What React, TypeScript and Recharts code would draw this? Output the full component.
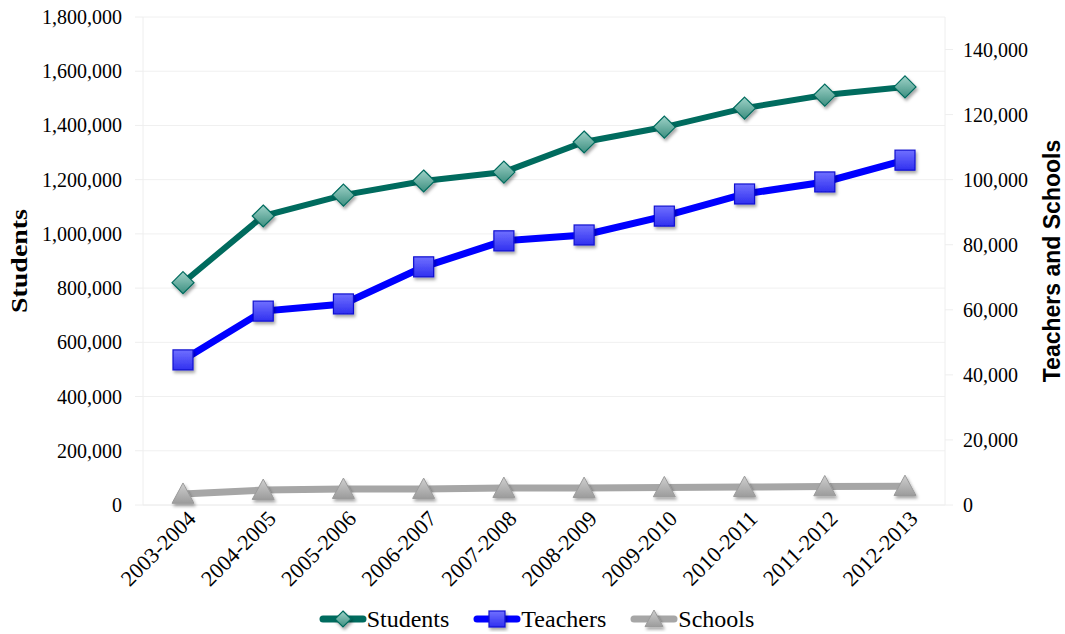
import { LineChart, Line, XAxis, YAxis, CartesianGrid, Legend } from 'recharts';

const years = [
  '2003-2004', '2004-2005', '2005-2006', '2006-2007', '2007-2008',
  '2008-2009', '2009-2010', '2010-2011', '2011-2012', '2012-2013',
];
const students = [820000, 1066000, 1143000, 1195000, 1228000, 1339000, 1394000, 1464000, 1512000, 1542000];
const teachers = [44600, 59600, 61800, 73200, 81200, 83000, 88800, 95600, 99300, 106000];
const schools = [3400, 4600, 4900, 4900, 5200, 5200, 5400, 5500, 5700, 5800];

const leftTicks = [0, 200000, 400000, 600000, 800000, 1000000, 1200000, 1400000, 1600000, 1800000];
const rightTicks = [0, 20000, 40000, 60000, 80000, 100000, 120000, 140000];

const data = years.map((year, i) => ({
  year,
  students: students[i],
  teachers: teachers[i],
  schools: schools[i],
}));

const SERIF = '"Liberation Serif", "Times New Roman", serif';
const SANS = '"Liberation Sans", Arial, sans-serif';

const TEAL = '#006b5e';
const BLUE = '#0000ff';
const GREY = '#a6a6a6';

const fmt = (v: number) => v.toLocaleString('en-US');

function Diamond({ cx, cy, half = 11 }: any) {
  if (cx == null || cy == null) return null;
  return (
    <path
      d={`M${cx},${cy - half} L${cx + half},${cy} L${cx},${cy + half} L${cx - half},${cy} Z`}
      fill="url(#gTeal)"
      stroke={TEAL}
      strokeWidth={1.2}
      filter="url(#shadow)"
    />
  );
}

function Square({ cx, cy, half = 10 }: any) {
  if (cx == null || cy == null) return null;
  return (
    <rect
      x={cx - half}
      y={cy - half}
      width={half * 2}
      height={half * 2}
      fill="url(#gBlue)"
      stroke="#1010d0"
      strokeWidth={1.2}
      filter="url(#shadow)"
    />
  );
}

function Triangle({ cx, cy, half = 11 }: any) {
  if (cx == null || cy == null) return null;
  const h = half * 0.85;
  return (
    <path
      d={`M${cx},${cy - half} L${cx + half},${cy + h} L${cx - half},${cy + h} Z`}
      fill="url(#gGrey)"
      stroke="#9a9a9a"
      strokeWidth={1}
      filter="url(#shadow)"
    />
  );
}

function XTick({ x, y, payload }: any) {
  return (
    <text
      x={x}
      y={y}
      transform={`rotate(-45, ${x}, ${y})`}
      textAnchor="end"
      dy={15}
      dx={5}
      style={{ fontFamily: SERIF, fontSize: 22 }}
      fill="#000"
    >
      {payload.value}
    </text>
  );
}

function YTickLeft({ x, y, payload }: any) {
  return (
    <text x={x} y={y} dy={7} textAnchor="end" style={{ fontFamily: SERIF, fontSize: 20 }} fill="#000">
      {fmt(payload.value)}
    </text>
  );
}

function YTickRight({ x, y, payload }: any) {
  return (
    <text x={x} y={y} dy={7} textAnchor="start" style={{ fontFamily: SERIF, fontSize: 20 }} fill="#000">
      {fmt(payload.value)}
    </text>
  );
}

function LeftLabel({ viewBox }: any) {
  const x = viewBox.x + 19;
  const y = viewBox.y + viewBox.height / 2;
  return (
    <text
      x={x}
      y={y}
      transform={`rotate(-90, ${x}, ${y})`}
      textAnchor="middle"
      dominantBaseline="central"
      textLength={104}
      lengthAdjust="spacingAndGlyphs"
      style={{ fontFamily: SERIF, fontWeight: 'bold', fontSize: 23 }}
      fill="#000"
    >
      Students
    </text>
  );
}

function RightLabel({ viewBox }: any) {
  const x = viewBox.x + 107;
  const y = viewBox.y + viewBox.height / 2;
  return (
    <text
      x={x}
      y={y}
      transform={`rotate(-90, ${x}, ${y})`}
      textAnchor="middle"
      dominantBaseline="central"
      style={{ fontFamily: SANS, fontWeight: 'bold', fontSize: 23 }}
      fill="#000"
    >
      Teachers and Schools
    </text>
  );
}

const legendItems = [
  { label: 'Students', color: TEAL },
  { label: 'Teachers', color: BLUE },
  { label: 'Schools', color: GREY },
];

function LegendContent() {
  return (
    <div
      style={{
        display: 'flex',
        justifyContent: 'center',
        alignItems: 'center',
        gap: 24,
        marginTop: 6,
        paddingLeft: 8,
      }}
    >
      {legendItems.map(({ label, color }) => (
        <div key={label} style={{ display: 'flex', alignItems: 'center' }}>
          <svg width={48} height={26}>
            <line x1={4} y1={13} x2={44} y2={13} stroke={color} strokeWidth={7} strokeLinecap="round" />
            {label === 'Students' && <Diamond cx={24} cy={13} half={8} />}
            {label === 'Teachers' && <Square cx={24} cy={13} half={8} />}
            {label === 'Schools' && <Triangle cx={24} cy={13} half={9} />}
          </svg>
          <span style={{ fontFamily: SERIF, fontSize: 24, color: '#000', lineHeight: '26px' }}>{label}</span>
        </div>
      ))}
    </div>
  );
}

export default function App() {
  return (
    <div style={{ position: 'absolute', left: 0, top: 0, width: 1065, height: 634, background: '#fff' }}>
      <svg width={0} height={0} style={{ position: 'absolute' }}>
        <defs>
          <linearGradient id="gTeal" x1="0" y1="0" x2="0" y2="1">
            <stop offset="0%" stopColor="#9fd2c8" />
            <stop offset="100%" stopColor="#3d8f80" />
          </linearGradient>
          <linearGradient id="gBlue" x1="0" y1="0" x2="0" y2="1">
            <stop offset="0%" stopColor="#7070ff" />
            <stop offset="100%" stopColor="#3030f0" />
          </linearGradient>
          <linearGradient id="gGrey" x1="0" y1="0" x2="0" y2="1">
            <stop offset="0%" stopColor="#cfcfcf" />
            <stop offset="100%" stopColor="#9c9c9c" />
          </linearGradient>
          <filter id="shadow" x="-50%" y="-50%" width="200%" height="200%">
            <feDropShadow dx={1.5} dy={2.5} stdDeviation={1.8} floodColor="#000" floodOpacity={0.35} />
          </filter>
        </defs>
      </svg>
      <LineChart width={1065} height={634} data={data} margin={{ top: 17, right: 0, left: 0, bottom: 0 }}>
        <CartesianGrid yAxisId="left" vertical={false} stroke="#f0f0f0" />
        <XAxis
          dataKey="year"
          height={95}
          padding={{ left: 40, right: 40 }}
          tick={<XTick />}
          axisLine={{ stroke: '#eeeeee' }}
          tickLine={false}
          interval={0}
        />
        <YAxis
          yAxisId="left"
          width={143}
          domain={[0, 1800000]}
          ticks={leftTicks}
          tick={<YTickLeft />}
          axisLine={{ stroke: '#eeeeee' }}
          tickLine={{ stroke: '#eeeeee' }}
          tickSize={8}
          tickMargin={13}
          label={<LeftLabel />}
        />
        <YAxis
          yAxisId="right"
          orientation="right"
          width={120}
          domain={[0, 150000]}
          ticks={rightTicks}
          tick={<YTickRight />}
          axisLine={{ stroke: '#eeeeee' }}
          tickLine={{ stroke: '#eeeeee' }}
          tickSize={8}
          tickMargin={10}
          label={<RightLabel />}
        />
        <Legend verticalAlign="bottom" height={34} content={<LegendContent />} />
        <Line
          yAxisId="right"
          dataKey="schools"
          stroke={GREY}
          strokeWidth={7}
          dot={<Triangle />}
          activeDot={false}
          isAnimationActive={false}
        />
        <Line
          yAxisId="right"
          dataKey="teachers"
          stroke={BLUE}
          strokeWidth={7}
          dot={<Square />}
          activeDot={false}
          isAnimationActive={false}
        />
        <Line
          yAxisId="left"
          dataKey="students"
          stroke={TEAL}
          strokeWidth={6}
          dot={<Diamond />}
          activeDot={false}
          isAnimationActive={false}
        />
      </LineChart>
    </div>
  );
}
